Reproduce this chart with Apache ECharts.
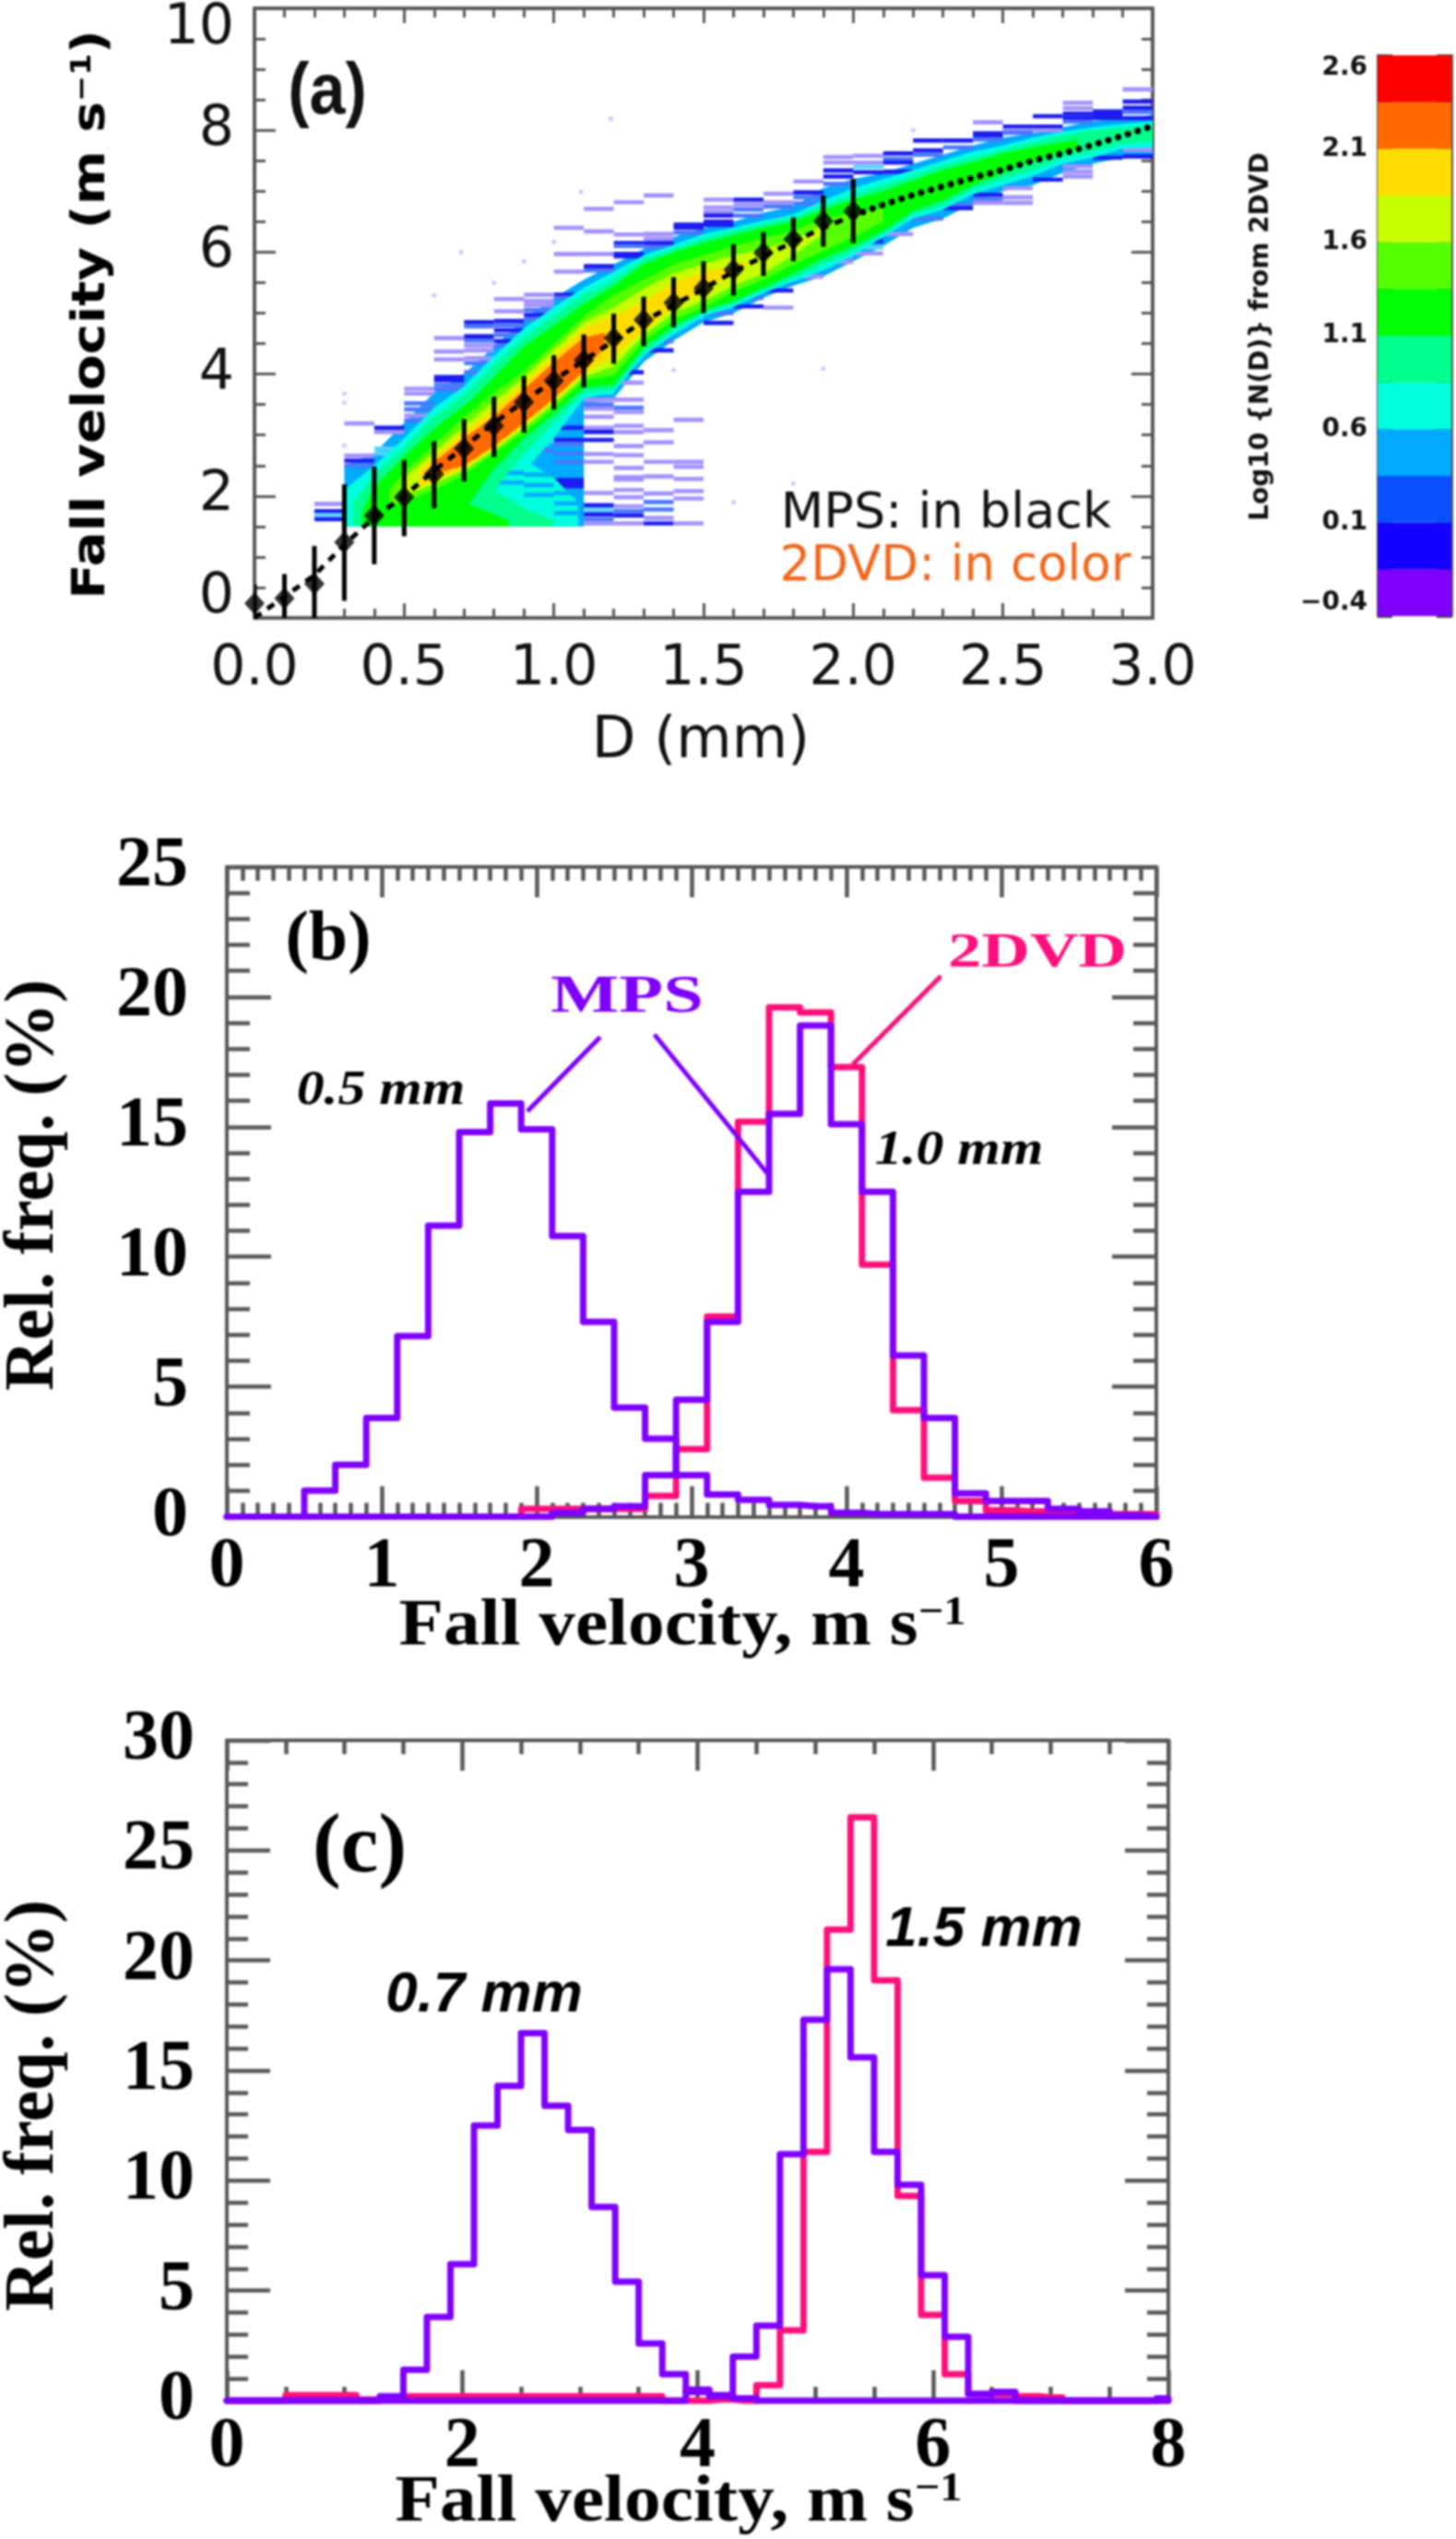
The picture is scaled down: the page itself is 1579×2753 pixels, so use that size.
<!DOCTYPE html>
<html><head><meta charset="utf-8">
<style>html,body{margin:0;padding:0;background:#fff}#c{width:1579px;height:2753px;filter:blur(0.9px)}</style>
<script src="https://cdn.jsdelivr.net/npm/echarts@6/dist/echarts.min.js"></script>
</head><body><div id="c"></div>
<script>
// ---------- panel (a): MPS means, spread, fit curve ----------
const mpsD  = [0,.1,.2,.3,.4,.5,.6,.7,.8,.9,1,1.1,1.2,1.3,1.4,1.5,1.6,1.7,1.8,1.9,2];
const mpsV  = [.24,.32,.56,1.24,1.68,1.98,2.36,2.78,3.15,3.54,3.89,4.23,4.59,4.89,5.17,5.41,5.71,5.99,6.21,6.51,6.67];
const mpsHi = [.55,.72,1.18,2.19,2.48,2.59,2.9,3.26,3.63,3.97,4.31,4.65,4.99,5.27,5.59,5.85,6.13,6.33,6.57,6.93,7.2];
const mpsLo = [0,0,0,.28,.88,1.34,1.8,2.24,2.64,3.04,3.42,3.78,4.17,4.46,4.77,5,5.29,5.61,5.85,6.09,6.15];
const fitDashed = [[0,0],[.1,.35],[.2,.7],[.3,1.2],[.4,1.65],[.5,2],[.6,2.42],[.7,2.8],[.8,3.2],[.9,3.55],[1,3.9],[1.1,4.22],[1.2,4.55],[1.3,4.87],[1.4,5.13],[1.5,5.4],[1.6,5.68],[1.7,5.93],[1.8,6.17],[1.9,6.4],[2,6.6]];
const fitDotted = [[2,6.6],[2.1,6.78],[2.2,6.94],[2.3,7.08],[2.4,7.22],[2.5,7.35],[2.6,7.5],[2.7,7.62],[2.8,7.76],[2.9,7.91],[3,8.07]];
// colour levels of the 2DVD density
const levelColors = ['#7F00FF','#1400FF','#0A50FF','#00AAFF','#00FFDC','#00FF8C','#00FF00','#55FF00','#C8FF00','#FFDC00','#FF6A00','#FF0000'];
const colorbarTicks = ['−0.4','','0.1','','0.6','','1.1','','1.6','','2.1','','2.6'];
// level envelopes: [D, low V, high V]
const skyBand = [[.3,1.5,2.5],[.4,1.5,2.7],[.5,1.5,3.2],[.6,1.5,3.7],[.7,1.5,4.0],[.8,1.5,4.45],[.9,1.5,4.9],[1,1.5,5.25],[1.1,1.5,5.55],[1.1,3.5,5.55],[1.2,3.6,5.8],[1.3,4.2,6.05],[1.4,4.55,6.25],[1.5,4.85,6.4],[1.6,5,6.5],[1.7,5.25,6.65],[1.8,5.45,6.75],[1.9,5.6,7.05],[2,5.85,7.2],[2.1,6.1,7.3],[2.2,6.4,7.45],[2.3,6.55,7.6],[2.4,6.8,7.75],[2.5,7,7.88],[2.6,7.1,7.95],[2.7,7.3,8.05],[2.8,7.45,8.15],[2.9,7.55,8.2],[3,7.6,8.25]];
const cyanBand = [[.3,1.5,2.1],[.4,1.5,2.5],[.5,1.5,2.95],[.6,1.5,3.45],[.7,1.5,3.8],[.8,1.5,4.3],[.9,2.4,4.75],[1,2.95,5.1],[1.1,3.6,5.42],[1.2,3.7,5.68],[1.3,4.3,5.95],[1.4,4.65,6.12],[1.5,4.95,6.3],[1.6,5.1,6.4],[1.7,5.33,6.52],[1.8,5.52,6.62],[1.9,5.7,6.85],[2,5.95,7.05],[2.1,6.25,7.2],[2.2,6.55,7.35],[2.3,6.7,7.5],[2.4,6.95,7.65],[2.5,7.1,7.75],[2.6,7.25,7.88],[2.7,7.45,7.98],[2.8,7.55,8.05],[2.9,7.7,8.1],[3,7.72,8.15]];
const cyanWash = [[.8,1.5,2.6],[.9,1.5,2.6],[1,1.5,2.3],[1.08,1.5,1.9]];
const springBand = [[.33,1.5,1.9],[.4,1.5,2.35],[.5,1.5,2.8],[.6,1.5,3.3],[.7,1.5,3.65],[.8,2.1,4.15],[.9,2.7,4.6],[1,3.2,4.95],[1.1,3.7,5.3],[1.2,3.75,5.55],[1.3,4.35,5.88],[1.4,4.72,6.05],[1.5,5,6.22],[1.6,5.15,6.35],[1.7,5.38,6.47],[1.8,5.58,6.57],[1.9,5.8,6.77],[2,6.02,6.94],[2.1,6.3,7.1],[2.2,6.62,7.25],[2.3,6.77,7.42],[2.4,7.03,7.55],[2.5,7.2,7.68],[2.6,7.35,7.8],[2.7,7.55,7.92],[2.8,7.65,8],[2.9,7.78,8.04],[3,7.82,8.08]];
const springWash = [[.7,1.5,2.2],[.8,1.5,2.1],[.9,1.5,1.8],[1,1.5,1.6]];
const greenBand = [[.36,1.5,1.75],[.4,1.5,2.15],[.5,1.5,2.65],[.6,1.5,3.1],[.65,1.5,3.3],[.72,1.9,3.55],[.8,2.45,3.95],[.9,2.95,4.45],[1,3.35,4.8],[1.1,3.78,5.15],[1.2,3.83,5.45],[1.3,4.44,5.8],[1.4,4.79,6],[1.5,5.04,6.15],[1.6,5.2,6.28],[1.7,5.42,6.4],[1.8,5.65,6.5],[1.9,5.9,6.7],[2,6.1,6.86],[2.1,6.35,7],[2.2,6.68,7.18],[2.3,6.85,7.35],[2.4,7.1,7.48],[2.5,7.3,7.62],[2.6,7.48,7.72],[2.75,7.7,7.85]];
const greenWash = [[.65,1.5,2.0],[.75,1.5,1.8],[.85,1.5,1.6]];
const limeBand = [[.45,1.85,2.1],[.5,1.9,2.4],[.6,2.1,2.85],[.7,2.35,3.3],[.8,2.7,3.7],[.9,3.05,4.05],[1,3.45,4.5],[1.1,3.9,4.95],[1.2,3.98,5.3],[1.3,4.54,5.55],[1.4,4.89,5.8],[1.5,5.09,5.95],[1.6,5.35,6.1],[1.7,5.55,6.23],[1.8,5.8,6.35],[1.9,6.02,6.55],[2,6.25,6.65],[2.1,6.5,6.72]];
const yellowGreenBand = [[.5,2,2.3],[.6,2.2,2.72],[.7,2.42,3.15],[.8,2.75,3.55],[.9,3.12,3.95],[1,3.52,4.4],[1.1,3.95,4.85],[1.2,4.13,5.09],[1.3,4.64,5.4],[1.4,5,5.65],[1.5,5.2,5.8],[1.6,5.45,5.95],[1.7,5.65,6.05],[1.8,5.95,6.2],[1.9,6.3,6.45]];
const goldBand = [[.55,2.15,2.4],[.6,2.25,2.65],[.7,2.46,3.05],[.8,2.78,3.42],[.9,3.16,3.85],[1,3.56,4.3],[1.1,4,4.75],[1.2,4.3,4.95],[1.3,4.7,5.2],[1.4,5.1,5.5],[1.5,5.35,5.68],[1.6,5.65,5.78],[1.65,5.8,5.85]];
const orangeBand = [[.6,2.36,2.56],[.7,2.5,2.95],[.8,2.82,3.3],[.9,3.2,3.75],[1,3.6,4.2],[1.1,4.05,4.6],[1.17,4.45,4.68]];
// sparse fringe rows: D column left edge -> [V, shade]
const fringeShades = ['#a292ff','#1c1cf0','#4a78ff','#58d4ff'];
const fringeRows = {
 .2:[[1.87,0],[1.75,1],[1.62,1],[1.69,3]],
 .3:[[3.19,0],[2.66,0],[2.58,1],[2.5,2]],
 .4:[[3.12,1],[3.05,0],[2.78,3],[2.7,3]],
 .5:[[3.76,0],[3.68,0],[3.52,2],[3.42,2],[3.32,0],[3.24,2]],
 .6:[[4.59,0],[4.37,0],[4.24,0],[3.95,1],[3.9,1],[3.82,2],[3.75,2]],
 .7:[[4.85,1],[4.78,2],[4.62,1],[4.55,2],[4.47,0],[4.39,0],[4.26,0],[4.18,2],[4.03,2]],
 .8:[[5.23,0],[5.03,0],[4.87,1],[4.8,2],[4.72,1],[4.64,2],[4.54,1],[4.46,2]],
 .9:[[5.3,0],[5.2,0],[5.13,0],[5.05,2],[4.97,1],[4.9,2],[2.9,3],[2.75,2]],
 1:[[6.4,0],[5.97,0],[5.68,0],[5.3,1],[5.25,2],[3.12,1],[2.92,1],[2.85,2],[2.7,2],[2.56,2],[2.26,1],[2.2,1],[2.16,1]],
 1.1:[[6.71,0],[6.34,0],[5.97,0],[5.77,1],[5.7,2],[3.7,3],[3.58,0],[3.5,2],[3.43,0],[3.3,0],[3.12,0],[3.05,1],[2.92,1],[2.69,0],[2.56,0],[2.05,0],[1.85,1],[1.78,3],[1.7,1],[1.62,2],[1.55,0]],
 1.2:[[6.82,0],[6.29,0],[6.15,1],[6.1,2],[5.97,1],[5.93,1],[4.03,1],[3.86,0],[3.58,0],[3.45,2],[3.38,0],[3.15,0],[3.05,0],[2.82,0],[2.67,0],[2.46,0],[2.31,0],[2.27,0],[2.1,0],[1.98,0],[1.83,0],[1.75,2],[1.68,1],[1.55,0]],
 1.3:[[6.93,0],[6.3,0],[6.22,0],[6.15,1],[6.08,2],[4.54,2],[4.39,1],[3.08,0],[2.88,0],[2.56,0],[2.32,0],[2.04,0],[1.9,2],[1.78,2],[1.64,0],[1.55,1]],
 1.4:[[6.45,1],[6.4,1],[6.32,2],[4.94,3],[3.25,0],[2.56,0],[2.48,0],[2.28,0],[2.08,0],[1.96,0],[1.55,0]],
 1.5:[[6.86,0],[6.73,0],[6.65,0],[6.6,1],[6.5,1],[6.45,1],[5,2],[4.84,1]],
 1.6:[[6.86,1],[6.78,0],[6.7,2],[6.6,2],[5.25,2],[5.11,1]],
 1.7:[[6.96,0],[6.82,0],[6.75,2],[5.5,2],[5.37,1],[5.09,0]],
 1.8:[[7.16,0],[6.98,1],[6.9,2],[6.8,2],[5.7,2],[5.6,0]],
 1.9:[[7.56,0],[7.47,0],[7.34,1],[7.24,1],[7.12,2],[5.93,0],[5.84,0]],
 2:[[7.58,0],[7.47,0],[7.4,3],[7.31,1],[6.18,1],[6.08,3],[5.98,0]],
 2.1:[[7.62,1],[7.53,2],[7.47,1],[7.32,1],[6.3,0]],
 2.2:[[7.83,1],[7.67,1],[7.6,2],[6.55,2]],
 2.3:[[7.83,1],[7.72,2],[6.78,2],[6.72,1]],
 2.4:[[8.13,0],[7.95,1],[7.91,1],[7.85,2],[6.94,1],[6.87,2],[6.81,0]],
 2.5:[[8.06,1],[8,0],[7.96,2],[7.05,0],[6.9,0],[6.81,0]],
 2.6:[[8.23,1],[8.06,1],[8,0],[7.19,1]],
 2.7:[[8.45,0],[8.36,0],[8.27,1],[8.2,1],[8.14,2],[7.41,0],[7.32,0],[7.24,0]],
 2.8:[[8.31,1],[8.25,1],[8.2,1],[7.55,1]],
 2.9:[[8.67,0],[8.47,1],[8.37,1],[8.3,2],[8.2,1],[7.75,0],[7.68,0],[7.57,1]]
};
// sky-blue rows inside the low-velocity wash, left edge of D column -> V
const washRows = {.7:[2.32],.8:[2.22,2.38],.9:[2.02,2.18,2.35],1:[1.72,1.88,2.05]};
const specks = [[.3,3.68],[.3,3.53],[.3,2.83],[1.19,8.19],[1.09,6.99],[.69,6],[.8,5.5],[.6,5.29],[.9,5.85],[1,6.17],[1.9,4.09],[1.4,4.07],[2.2,8.0],[1.6,1.9],[1.8,2.2]];

// ---------- panel (b): bin centres every 0.2 m/s ----------
const binsB = [0,.2,.4,.6,.8,1,1.2,1.4,1.6,1.8,2,2.2,2.4,2.6,2.8,3,3.2,3.4,3.6,3.8,4,4.2,4.4,4.6,4.8,5,5.2,5.4,5.6,5.8,6];
const mps05 = [0,0,0,1,2,3.8,6.95,11.2,14.8,15.9,14.9,10.8,7.5,4.2,3,1.6,.85,.65,.45,.4,.15,.1,.1,.1,0,0,0,0,0,0,0];
const mps10 = [0,0,0,0,0,0,0,0,0,0,0,.15,.3,.4,1.6,4.5,7.5,12.5,15.5,18.9,15.1,12.5,6.2,3.8,.9,.6,.6,.3,.2,.05,0];
const dvd10 = [0,0,0,0,0,0,0,0,0,0,.3,.3,.3,.3,.8,2.6,7.7,15.2,19.6,19.4,17.3,9.7,4.1,1.5,.6,.25,.2,.2,.1,.1,.1];
const leaderMps1 = [[1.94,15.6],[2.41,18.45]];
const leaderMps2 = [[2.76,18.55],[3.49,13.2]];
const leaderDvd  = [[4.04,17.4],[4.61,20.8]];

// ---------- panel (c): bin centres every 0.2 m/s ----------
const binsC = [0,.2,.4,.6,.8,1,1.2,1.4,1.6,1.8,2,2.2,2.4,2.6,2.8,3,3.2,3.4,3.6,3.8,4,4.2,4.4,4.6,4.8,5,5.2,5.4,5.6,5.8,6,6.2,6.4,6.6,6.8,7,7.2,7.4,7.6,7.8,8];
const mps07 = [0,0,0,0,0,0,0,.2,1.4,3.8,6.2,12.5,14.3,16.7,13.4,12.3,8.8,5.4,2.6,1.2,.4,.2,.1,0,0,0,0,0,0,0,0,0,0,0,0,0,0,0,0,0,0];
const mps15 = [0,0,0,0,0,0,0,0,0,0,0,0,0,0,0,0,0,0,0,0,.5,.25,2,3.4,11.2,17.3,19.6,15.6,11.3,9.8,5.7,2.9,.3,.4,0,0,0,0,0,0,.1];
const dvd15 = [0,0,0,.25,.25,.25,.05,.05,.2,.2,.2,.2,.2,.2,.2,.2,.2,.2,.2,0,0,.05,0,.7,3.2,11.3,21.4,26.5,19.1,9.3,3.9,1.2,.3,.3,.2,.15,0,0,0,0,0];

const PINK='#FF0F7B', PURPLE='#7F00FF', GREY='#585858';
const pairs=(xs,ys)=>xs.map((x,i)=>[x,ys[i]]);

function boxAxes(g,xr,yr,t,lab,labFmt){
  const tickX={show:true,inside:true,length:t.xMaj,lineStyle:{color:GREY,width:t.w}};
  const minorX={show:true,splitNumber:xr.sub,length:t.xMin,lineStyle:{color:GREY,width:t.w}};
  const tickY={show:true,inside:true,length:t.yMaj,lineStyle:{color:GREY,width:t.w}};
  const minorY={show:true,splitNumber:yr.sub,length:t.yMin,lineStyle:{color:GREY,width:t.w}};
  const line={show:true,onZero:false,lineStyle:{color:GREY,width:t.line}};
  const x=(pos,show)=>({type:'value',gridIndex:g,position:pos,min:xr.min,max:xr.max,interval:xr.step,axisLine:line,axisTick:tickX,minorTick:minorX,splitLine:{show:false},
    axisLabel:show?Object.assign({show:true,margin:lab.xMargin,formatter:labFmt},lab.style):{show:false}});
  const y=(pos,show)=>({type:'value',gridIndex:g,position:pos,min:yr.min,max:yr.max,interval:yr.step,axisLine:line,axisTick:tickY,minorTick:minorY,splitLine:{show:false},
    axisLabel:show?Object.assign({show:true,margin:lab.yMargin,verticalAlignMinLabel:lab.vMin,verticalAlignMaxLabel:lab.vMax},lab.style):{show:false}});
  return {x:[x('bottom',true),x('top',false)],y:[y('left',true),y('right',false)]};
}
const axA=boxAxes(0,{min:0,max:3,step:.5,sub:5},{min:0,max:10,step:2,sub:4},{xMaj:16,xMin:10,yMaj:23,yMin:12,w:3,line:4},
  {xMargin:34,yMargin:22,vMin:'bottom',vMax:'top',style:{fontFamily:'DejaVu Sans',fontSize:60,lineHeight:44,color:'#111'}},v=>v.toFixed(1));
const serifLab={fontFamily:'Liberation Serif',fontWeight:'bold',fontSize:78,color:'#000'};
const axB=boxAxes(1,{min:0,max:6,step:1,sub:10},{min:0,max:25,step:5,sub:5},{xMaj:33,xMin:15,yMaj:48,yMin:25,w:4.5,line:4},
  {xMargin:16,yMargin:42,style:serifLab});
const axC=boxAxes(2,{min:0,max:8,step:2,sub:4},{min:0,max:30,step:5,sub:5},{xMaj:33,xMin:15,yMaj:47,yMin:23,w:4.5,line:4},
  {xMargin:12,yMargin:35,style:serifLab});

const cbTick={show:true,inside:true,length:16,lineStyle:{color:'#444',width:3}};
const cbLine={show:true,onZero:false,lineStyle:{color:'#555',width:3}};
const cbX={type:'value',gridIndex:3,min:0,max:1,show:false};
const cbYL={type:'value',gridIndex:3,position:'left',min:0,max:12,interval:1,axisLine:cbLine,axisTick:cbTick,splitLine:{show:false},
  axisLabel:{show:true,margin:11,interval:0,fontFamily:'DejaVu Sans',fontWeight:'bold',fontSize:28,color:'#111',showMinLabel:true,showMaxLabel:true,verticalAlignMinLabel:'bottom',verticalAlignMaxLabel:'top',hideOverlap:false,formatter:v=>colorbarTicks[v]}};
const cbYR={type:'value',gridIndex:3,position:'right',min:0,max:12,interval:1,axisLine:cbLine,axisTick:cbTick,splitLine:{show:false},axisLabel:{show:false}};

function bandSeries(band,color){
  return {type:'custom',xAxisIndex:0,yAxisIndex:0,silent:true,animation:false,data:[[band[0][0],band[0][1]]],encode:{x:0,y:1},
    renderItem:(p,api)=>{
      const up=band.map(n=>api.coord([n[0],n[2]]));
      const lo=band.slice().reverse().map(n=>api.coord([n[0],n[1]]));
      return {type:'polygon',shape:{points:up.concat(lo)},style:{fill:color}};
    }};
}
function rowSeries(data,colorOf){
  return {type:'custom',xAxisIndex:0,yAxisIndex:0,silent:true,animation:false,data:data,encode:{x:0,y:1},
    renderItem:(p,api)=>{
      const a=api.coord([api.value(0),api.value(1)+.035]),b=api.coord([api.value(0)+.1,api.value(1)-.035]);
      return {type:'rect',shape:{x:a[0],y:a[1],width:b[0]-a[0],height:b[1]-a[1]},style:{fill:colorOf(api.value(2))}};
    }};
}
const fringeData=[];
Object.keys(fringeRows).forEach(k=>fringeRows[k].forEach(r=>fringeData.push([+k,r[0],r[1]])));
const washData=[];
Object.keys(washRows).forEach(k=>washRows[k].forEach(v=>washData.push([+k,v,0])));
const errorSeries={type:'custom',xAxisIndex:0,yAxisIndex:0,silent:true,animation:false,clip:true,data:mpsD.map((d,i)=>[d,mpsLo[i],mpsHi[i]]),encode:{x:0,y:[1,2]},
  renderItem:(p,api)=>{
    const a=api.coord([api.value(0),api.value(1)]),b=api.coord([api.value(0),api.value(2)]);
    return {type:'line',shape:{x1:a[0],y1:a[1],x2:b[0],y2:b[1]},style:{stroke:'#000',lineWidth:5}};
  }};
const colorbarSeries={type:'custom',xAxisIndex:6,yAxisIndex:6,silent:true,animation:false,data:levelColors.map((c,i)=>[i]),encode:{y:0},
  renderItem:(p,api)=>{
    const i=api.value(0);
    const a=api.coord([0,i+1]),b=api.coord([1,i]);
    return {type:'rect',shape:{x:a[0],y:a[1],width:b[0]-a[0],height:b[1]-a[1]},style:{fill:levelColors[i]}};
  }};
function stepLine(xi,yi,xs,ys,color,z){
  return {type:'line',xAxisIndex:xi,yAxisIndex:yi,step:'middle',showSymbol:false,clip:false,animation:false,silent:true,z:z,data:pairs(xs,ys),
    lineStyle:{color:color,width:7,join:'round',cap:'round'}};
}
function leader(xi,yi,pts,color){
  return {type:'line',xAxisIndex:xi,yAxisIndex:yi,showSymbol:false,animation:false,silent:true,z:6,data:pts,lineStyle:{color:color,width:5}};
}
function txt(x,y,text,font,fill,extra){
  return Object.assign({type:'text',x:x,y:y,z:50,silent:true,style:Object.assign({text:text,fill:fill,align:'center',verticalAlign:'middle'},font)},extra||{});
}
function supTitle(x,y,pre,post,family,size,supSize,weight,extra){
  const text='{a|'+pre+'}{s|−1}'+(post?'{a|'+post+'}':'');
  return txt(x,y,text,{fontFamily:family,fontSize:size,fontWeight:weight,rich:{
    a:{fontFamily:family,fontSize:size,fontWeight:weight,fill:'#000',verticalAlign:'bottom'},
    s:{fontFamily:family,fontSize:supSize,fontWeight:weight,fill:'#000',verticalAlign:'top'}}},'#000',extra);
}
const SERIF={fontFamily:'Liberation Serif',fontWeight:'bold'};
const graphics=[
  supTitle(100,341,'Fall velocity (m s',')','DejaVu Sans',50,30,'bold',{rotation:Math.PI/2,scaleX:1.13}),
  txt(760,805,'D (mm)',{fontFamily:'DejaVu Sans',fontSize:62},'#111'),
  txt(355,102,'(a)',{fontFamily:'Liberation Sans',fontWeight:'bold',fontSize:70},'#111',{scaleY:1.1}),
  txt(1026,558,'MPS: in black',{fontFamily:'DejaVu Sans',fontSize:54},'#111'),
  txt(1036,615,'2DVD: in color',{fontFamily:'DejaVu Sans',fontSize:53},'#F2661B'),
  txt(1368,365,'Log10 {N(D)} from 2DVD',{fontFamily:'DejaVu Sans',fontWeight:'bold',fontSize:28,rich:{}},'#111',{rotation:Math.PI/2}),
  txt(356,1020,'(b)',Object.assign({fontSize:76},SERIF),'#000'),
  supTitle(740,1764,'Fall velocity, m s','','Liberation Serif',72,44,'bold',{scaleX:1.1}),
  txt(37,1285,'Rel. freq. (%)',Object.assign({fontSize:76},SERIF),'#000',{rotation:Math.PI/2}),
  txt(1125,1035,'2DVD',Object.assign({fontSize:52},SERIF),PINK,{scaleX:1.4}),
  txt(680,1083,'MPS',Object.assign({fontSize:56},SERIF),PURPLE,{scaleX:1.4}),
  txt(413,1184,'0.5 mm',{fontFamily:'Liberation Serif',fontWeight:'bold',fontStyle:'italic',fontSize:52},'#000',{scaleX:1.15}),
  txt(1040,1249,'1.0 mm',{fontFamily:'Liberation Serif',fontWeight:'bold',fontStyle:'italic',fontSize:52},'#000',{scaleX:1.15}),
  txt(390,2005,'(c)',Object.assign({fontSize:92},SERIF),'#000'),
  supTitle(736,2714,'Fall velocity, m s','','Liberation Serif',72,44,'bold',{scaleX:1.1}),
  txt(37,2283,'Rel. freq. (%)',Object.assign({fontSize:76},SERIF),'#000',{rotation:Math.PI/2}),
  txt(525,2164,'0.7 mm',{fontFamily:'Liberation Sans',fontWeight:'bold',fontStyle:'italic',fontSize:62},'#000'),
  txt(1067,2093,'1.5 mm',{fontFamily:'Liberation Sans',fontWeight:'bold',fontStyle:'italic',fontSize:62},'#000')
];

const option={
  backgroundColor:'#fff',animation:false,
  grid:[
    {left:276,top:9,width:974,height:661},
    {left:246,top:940,width:1008,height:704.5},
    {left:246,top:1887,width:1021,height:716},
    {left:1494,top:60,width:80,height:608}
  ],
  xAxis:[...axA.x,...axB.x,...axC.x,cbX],
  yAxis:[...axA.y,...axB.y,...axC.y,cbYL,cbYR],
  graphic:{elements:graphics},
  series:[
    bandSeries(skyBand,levelColors[3]),
    rowSeries(fringeData,i=>fringeShades[i]),
    bandSeries(cyanBand,levelColors[4]),
    bandSeries(cyanWash,levelColors[4]),
    rowSeries(washData,()=>levelColors[3]),
    bandSeries(springBand,levelColors[5]),
    bandSeries(springWash,levelColors[5]),
    bandSeries(greenBand,levelColors[6]),
    bandSeries(greenWash,levelColors[6]),
    bandSeries(limeBand,levelColors[7]),
    bandSeries(yellowGreenBand,levelColors[8]),
    bandSeries(goldBand,levelColors[9]),
    bandSeries(orangeBand,levelColors[10]),
    {type:'scatter',xAxisIndex:0,yAxisIndex:0,data:specks,symbolSize:5,silent:true,animation:false,itemStyle:{color:'#c6b8ff'}},
    {type:'line',xAxisIndex:0,yAxisIndex:0,data:fitDashed,showSymbol:false,silent:true,animation:false,lineStyle:{color:'#000',width:5,type:[9,8]},z:4},
    {type:'line',xAxisIndex:0,yAxisIndex:0,data:fitDotted,showSymbol:false,silent:true,animation:false,lineStyle:{color:'#000',width:7,type:[.1,11],cap:'round'},z:4},
    Object.assign(errorSeries,{z:5}),
    {type:'scatter',xAxisIndex:0,yAxisIndex:0,clip:true,data:pairs(mpsD,mpsV),symbol:'diamond',symbolSize:[22,24],silent:true,animation:false,itemStyle:{color:'#000'},z:6},
    stepLine(2,2,binsB,dvd10,PINK,3),
    stepLine(2,2,binsB,mps05,PURPLE,4),
    stepLine(2,2,binsB,mps10,PURPLE,4),
    leader(2,2,leaderMps1,PURPLE),leader(2,2,leaderMps2,PURPLE),leader(2,2,leaderDvd,PINK),
    stepLine(4,4,binsC,dvd15,PINK,3),
    stepLine(4,4,binsC,mps07,PURPLE,4),
    stepLine(4,4,binsC,mps15,PURPLE,4),
    colorbarSeries
  ]
};
const chart=echarts.init(document.getElementById('c'),null,{renderer:'canvas',width:1579,height:2753});
chart.setOption(option);
</script></body></html>
